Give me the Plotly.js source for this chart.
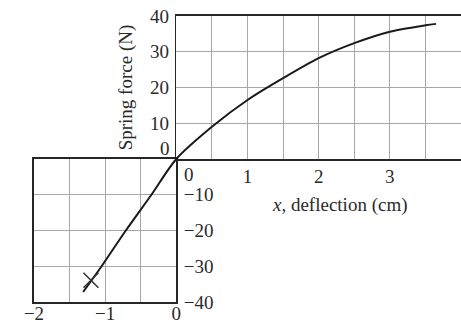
<!DOCTYPE html>
<html>
<head>
<meta charset="utf-8">
<script src="https://cdn.plot.ly/plotly-3.0.1.min.js"></script>
<style>html,body{margin:0;padding:0;background:#fff;}#chart{width:461px;height:324px;}</style>
</head>
<body>
<div id="chart"></div>
<script>
// Deflection (cm) and spring force (N)
const deflection = [-1.31, -1.05, -0.71, -0.35, 0, 0.5, 1, 1.5, 2, 2.5, 3, 3.5, 3.65];
const force = [-37.2, -30, -20, -10, 0, 9, 16.5, 22.6, 28.2, 32.4, 35.6, 37.4, 37.8];
const markX = [-1.2];
const markY = [-33.9];

const xTicksPos = [0, 0.5, 1, 1.5, 2, 2.5, 3, 3.5, 4];
const xTextPos = ['', '', '1', '', '2', '', '3', '', '4'];
const yTicksPos = [0, 10, 20, 30, 40];
const yTextPos = ['', '10', '20', '30', '40'];
const xTicksNeg = [-2, -1.5, -1, -0.5, 0];
const xTextNeg = ['\u22122', '', '\u22121', '', '0'];
const yTicksNeg = [-40, -30, -20, -10, 0];
const yTextNeg = ['\u221240', '\u221230', '\u221220', '\u221210', ''];

const FONT = {family: 'Liberation Serif, Times New Roman, serif', size: 19, color: '#2a2a2a'};
const GRID = '#a8a8a8';
const LINE = '#262626';

const traces = [
  {x: deflection, y: force, xaxis: 'x3', yaxis: 'y3', mode: 'lines',
   line: {color: '#1a1a1a', width: 2, shape: 'spline', smoothing: 0.8}, hoverinfo: 'skip'},
  {x: markX, y: markY, xaxis: 'x3', yaxis: 'y3', mode: 'markers',
   marker: {symbol: 'x-thin-open', size: 15, color: '#333', line: {color: '#333', width: 1.5}}, hoverinfo: 'skip'}
];

const axisBase = {showgrid: true, gridcolor: GRID, gridwidth: 1, zeroline: false,
  showline: true, mirror: true, linecolor: LINE, linewidth: 1.6, ticks: '',
  tickmode: 'array', tickfont: FONT, fixedrange: true};

const layout = {
  width: 461, height: 324,
  margin: {l: 34, r: 0, t: 16, b: 22},
  paper_bgcolor: '#fff', plot_bgcolor: 'rgba(0,0,0,0)',
  showlegend: false,
  font: FONT,
  xaxis: Object.assign({}, axisBase, {domain: [1/3, 1], range: [0, 4], anchor: 'y',
    tickvals: xTicksPos, ticktext: xTextPos, ticklabelstandoff: 0}),
  yaxis: Object.assign({}, axisBase, {domain: [0.5, 1], range: [0, 40], anchor: 'x', side: 'left',
    tickvals: yTicksPos, ticktext: yTextPos, ticklabelstandoff: 2,
    title: {text: 'Spring force (N)', font: FONT, standoff: 12}}),
  xaxis2: Object.assign({}, axisBase, {domain: [0, 1/3], range: [-2, 0], anchor: 'y2',
    tickvals: xTicksNeg, ticktext: xTextNeg, ticklabelstandoff: -6}),
  yaxis2: Object.assign({}, axisBase, {domain: [0, 0.5], range: [-40, 0], anchor: 'x2', side: 'right',
    tickvals: yTicksNeg, ticktext: yTextNeg, ticklabelstandoff: 2}),
  xaxis3: {domain: [0, 1], range: [-2, 4], anchor: 'y3', visible: false, showgrid: false, zeroline: false, fixedrange: true},
  yaxis3: {domain: [0, 1], range: [-40, 40], anchor: 'x3', visible: false, showgrid: false, zeroline: false, fixedrange: true},
  annotations: [
    {x: 0, y: 0, xref: 'x', yref: 'y', text: '0', showarrow: false, font: FONT,
     xanchor: 'right', yanchor: 'middle', xshift: -4, yshift: 11},
    {x: 0, y: 0, xref: 'x2', yref: 'y2', text: '0', showarrow: false, font: FONT,
     xanchor: 'left', yanchor: 'middle', xshift: 6, yshift: -15},
    {x: 2.3, y: -13, xref: 'x', yref: 'y2', text: '<i>x</i>, deflection (cm)', showarrow: false,
     font: FONT, xanchor: 'center', yanchor: 'middle'}
  ]
};

Plotly.newPlot('chart', traces, layout, {displayModeBar: false, staticPlot: true});
</script>
</body>
</html>
